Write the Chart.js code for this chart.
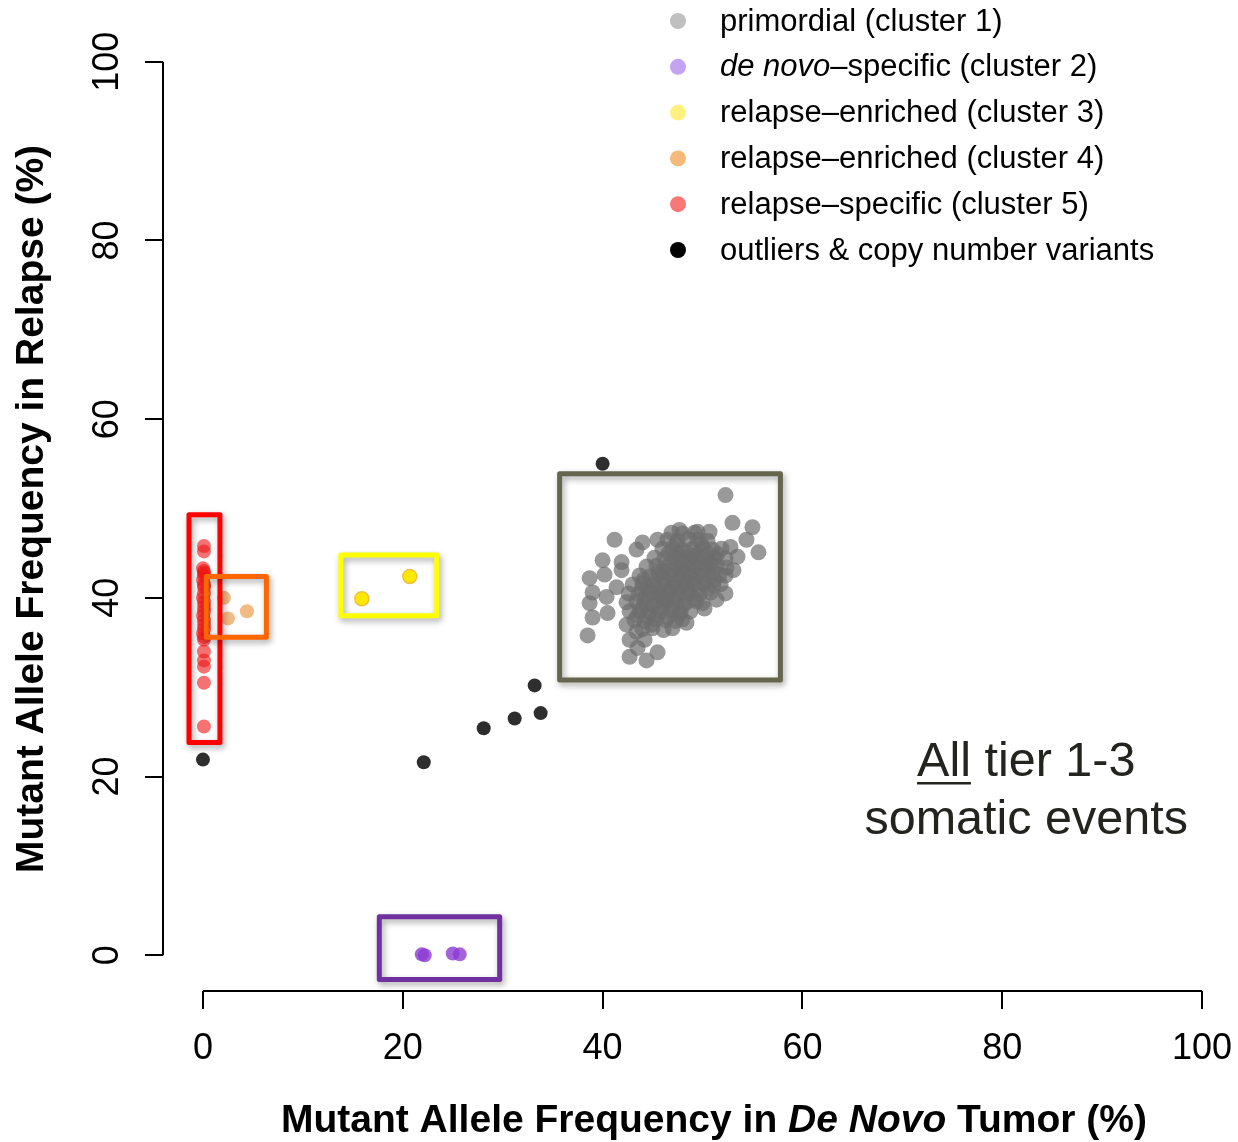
<!DOCTYPE html>
<html><head><meta charset="utf-8">
<script src="https://cdn.jsdelivr.net/npm/chart.js@4.4.1/dist/chart.umd.min.js"></script>
<style>html,body{margin:0;padding:0;background:#fff;}#wrap{width:1238px;height:1142px;}</style>
</head><body><div id="wrap"><canvas id="c" width="1238" height="1142"></canvas></div>
<script>
// ---------- data ----------
const xTicks = [0, 20, 40, 60, 80, 100];
const yTicks = [0, 20, 40, 60, 80, 100];
const xTitleParts = ['Mutant Allele Frequency in ', 'De Novo', ' Tumor (%)'];
const yTitle = 'Mutant Allele Frequency in Relapse (%)';
const legendNames = [
  ['', 'primordial (cluster 1)'],
  ['de novo', '\u2013specific (cluster 2)'],
  ['', 'relapse\u2013enriched (cluster 3)'],
  ['', 'relapse\u2013enriched (cluster 4)'],
  ['', 'relapse\u2013specific (cluster 5)'],
  ['', 'outliers & copy number variants']
];
const noteLine1 = ['All', ' tier 1-3'];
const noteLine2 = 'somatic events';

// cluster 1: primordial (outer scattered points)
const cluster1Outer = [
  [52.3,51.5],[53.0,48.4],[55.0,47.9],[54.4,46.5],[55.6,45.1],[41.2,46.5],[43.4,45.4],[40.0,44.2],
  [41.9,44.0],[38.7,42.2],[40.2,42.6],[39.0,40.6],[38.7,39.4],[40.4,40.1],[39.0,37.8],[40.5,38.3],
  [38.5,35.8],[42.4,37.0],[42.7,35.3],[43.5,34.4],[42.7,33.4],[44.4,33.0],[45.5,33.9],[47.0,36.6],
  [48.4,37.2],[52.3,40.5],[45.5,46.5],[47.7,47.6],[49.5,47.4],[50.7,47.4],[52.8,45.7],[53.5,44.6],
  [53.1,43.1],[41.4,41.2],[41.9,43.1],[44.2,35.3],[43.4,36.2],[50.2,38.8],[51.4,39.8],[44.0,46.2]
];
// cluster 1: primordial (dense core)
const cluster1Core = [
  [44.0,36.5],[45.0,36.6],[46.1,36.4],
  [43.2,37.5],[44.2,37.4],[45.3,37.6],[46.3,37.5],[47.3,37.4],[48.0,37.6],
  [42.7,38.5],[43.7,38.6],[44.7,38.4],[45.8,38.5],[46.8,38.6],[47.8,38.4],[48.8,38.5],
  [42.4,39.5],[43.4,39.6],[44.4,39.4],[45.4,39.5],[46.4,39.6],[47.4,39.4],[48.4,39.5],[49.4,39.6],[50.0,39.4],
  [42.6,40.5],[43.6,40.4],[44.7,40.6],[45.7,40.5],[46.7,40.4],[47.7,40.6],[48.7,40.5],[49.7,40.4],[50.8,40.6],
  [43.0,41.5],[44.0,41.6],[45.1,41.4],[46.1,41.5],[47.1,41.6],[48.1,41.4],[49.1,41.5],[50.1,41.6],[51.1,41.4],[51.8,41.5],
  [43.7,42.5],[44.7,42.4],[45.7,42.6],[46.7,42.5],[47.7,42.4],[48.7,42.6],[49.7,42.5],[50.7,42.4],[51.7,42.6],[52.3,42.5],
  [44.4,43.5],[45.4,43.6],[46.4,43.4],[47.4,43.5],[48.4,43.6],[49.4,43.4],[50.4,43.5],[51.4,43.6],[52.4,43.4],
  [45.2,44.5],[46.2,44.4],[47.2,44.6],[48.2,44.5],[49.2,44.4],[50.2,44.6],[51.2,44.5],[52.3,44.4],
  [46.0,45.5],[47.0,45.6],[48.0,45.4],[49.0,45.5],[50.0,45.6],[51.0,45.4],[51.9,45.5],
  [46.5,46.5],[47.5,46.4],[48.5,46.6],[49.5,46.5],[50.5,46.4],
  [46.9,47.3],[48.0,47.2],[49.2,47.3],
  [44.0,39.0],[45.0,39.1],[46.0,38.9],[47.0,39.0],[48.0,39.1],
  [44.2,40.0],[45.2,40.1],[46.2,39.9],[47.2,40.0],[48.2,40.1],[49.2,39.9],
  [44.5,41.0],[45.5,41.1],[46.5,40.9],[47.5,41.0],[48.5,41.1],[49.5,40.9],[50.5,41.0],
  [45.2,42.0],[46.2,42.1],[47.2,41.9],[48.2,42.0],[49.2,42.1],[50.2,41.9],[51.2,42.0],
  [46.0,43.0],[47.0,43.1],[48.0,42.9],[49.0,43.0],[50.0,43.1],[51.0,42.9],
  [46.8,44.0],[47.8,44.1],[48.8,43.9],[49.8,44.0],[50.8,44.1],
  [47.5,45.0],[48.5,45.1],[49.5,44.9],[50.5,45.0],
  [44.5,38.0],[45.5,38.1],[46.5,37.9],
  [43.5,38.0],[43.9,40.9],[44.9,37.0],[45.9,40.1],[46.9,41.2],[47.9,43.2],[48.9,44.7],[49.9,46.0],
  [50.9,43.8],[51.5,44.9],[47.6,38.1],[45.6,42.9],[44.1,42.0],[47.4,46.0],[48.6,41.7],[46.6,45.0]
];
// cluster 2: de novo-specific
const cluster2 = [[21.9,0.1],[22.2,0.0],[25.0,0.2],[25.7,0.1]];
// cluster 3: relapse-enriched
const cluster3 = [[15.9,39.9],[20.7,42.4]];
// cluster 4: relapse-enriched
const cluster4 = [[2.1,40.0],[2.5,37.7],[4.4,38.5]];
// cluster 5: relapse-specific
const cluster5 = [[0.1,45.8],[0.1,45.2],[0.1,43.0],[0.1,42.5],[0.1,41.5],[0.1,40.5],[0.1,39.5],[0.1,38.5],
  [0.1,37.5],[0.1,36.5],[0.1,35.3],[0.1,34.0],[0.1,33.0],[0.1,32.3],[0.1,30.5],[0.1,25.6],
  [0.0,43.3],[0.1,42.8],[0.0,42.0],[0.1,41.2],[0.0,40.0],[0.1,39.0],[0.0,38.0],[0.1,37.0],[0.0,36.0],[0.1,35.6]];
// outliers & CNVs
const outliers = [[0.0,21.9],[40.0,55.0],[22.1,21.6],[28.1,25.4],[31.2,26.5],[33.2,30.2],[33.8,27.1]];

// highlight boxes (data units): [xmin, xmax, ymin, ymax]
const boxRed    = [-1.4, 1.7, 23.8, 49.3];
const boxOrange = [0.33, 6.35, 35.6, 42.4];
const boxYellow = [13.8, 23.4, 38.0, 44.8];
const boxGray   = [35.7, 57.8, 30.8, 53.9];
const boxPurple = [17.65, 29.7, -2.7, 4.3];

// ---------- styles ----------
const FONT = '"Liberation Sans", Arial, Helvetica, sans-serif';
const seriesStyle = [
  {data: cluster1Outer.concat(cluster1Core), color: 'rgba(110,110,110,0.7)', r: 8},
  {data: cluster2, color: 'rgba(140,60,210,0.8)', r: 7},
  {data: cluster3, color: 'rgba(255,232,0,1)', r: 7, border: '#f0c040'},
  {data: cluster4, color: 'rgba(235,140,50,0.6)', r: 7},
  {data: cluster5, color: 'rgba(240,20,20,0.6)', r: 7},
  {data: outliers, color: 'rgba(0,0,0,0.82)', r: 7}
];
const legendDotColors = ['#c0c0c0','#c4a4f0','#fff080','#f5b97a','#f87878','#000000'];
const boxStyles = [
  [boxRed, '#ff0000'], [boxOrange, '#ff6600'], [boxYellow, '#ffff00'],
  [boxGray, '#66664f'], [boxPurple, '#7030a0']
];

const toPts = arr => arr.map(p => ({x: p[0], y: p[1]}));

const extrasPlugin = {
  id: 'extras',
  afterDatasetsDraw(chart) {
    const {ctx, scales: {x, y}} = chart;
    ctx.save();
    boxStyles.forEach(([b, col]) => {
      const x0 = x.getPixelForValue(b[0]), x1 = x.getPixelForValue(b[1]);
      const y0 = y.getPixelForValue(b[3]), y1 = y.getPixelForValue(b[2]);
      ctx.shadowColor = 'rgba(0,0,0,0.35)';
      ctx.shadowBlur = 6; ctx.shadowOffsetX = 2; ctx.shadowOffsetY = 3;
      ctx.strokeStyle = col; ctx.lineWidth = 5; ctx.lineJoin = 'round';
      ctx.strokeRect(x0, y0, x1 - x0, y1 - y0);
    });
    ctx.restore();
  },
  afterDraw(chart) {
    const {ctx, chartArea, scales: {x, y}} = chart;
    ctx.save();
    ctx.strokeStyle = '#000'; ctx.lineWidth = 2; ctx.lineCap = 'butt';
    ctx.beginPath();
    ctx.moveTo(chartArea.left, y.getPixelForValue(yTicks[0]));
    ctx.lineTo(chartArea.left, y.getPixelForValue(yTicks[yTicks.length - 1]));
    ctx.moveTo(x.getPixelForValue(xTicks[0]), chartArea.bottom);
    ctx.lineTo(x.getPixelForValue(xTicks[xTicks.length - 1]), chartArea.bottom);
    ctx.stroke();

    // y title
    ctx.fillStyle = '#000';
    ctx.font = 'bold 39px ' + FONT;
    ctx.textAlign = 'center'; ctx.textBaseline = 'middle';
    ctx.save();
    ctx.translate(32, 509);
    ctx.rotate(-Math.PI / 2);
    ctx.fillText(yTitle, 0, 0);
    ctx.restore();

    // x title with italic part
    const fonts = ['bold 39px ' + FONT, 'italic bold 39px ' + FONT, 'bold 39px ' + FONT];
    const widths = xTitleParts.map((t, i) => { ctx.font = fonts[i]; return ctx.measureText(t).width; });
    const total = widths.reduce((a, b) => a + b, 0);
    let cx = 714 - total / 2;
    ctx.textAlign = 'left'; ctx.textBaseline = 'middle';
    xTitleParts.forEach((t, i) => { ctx.font = fonts[i]; ctx.fillText(t, cx, 1121); cx += widths[i]; });

    // legend
    const rowY0 = 22, rowStep = 45.8;
    legendNames.forEach((parts, i) => {
      const ry = rowY0 + i * rowStep;
      ctx.fillStyle = legendDotColors[i];
      ctx.beginPath(); ctx.arc(678, ry - 1, 8, 0, Math.PI * 2); ctx.fill();
      ctx.fillStyle = '#000'; ctx.textBaseline = 'middle'; ctx.textAlign = 'left';
      let tx = 720;
      if (parts[0]) {
        ctx.font = 'italic 31px ' + FONT;
        ctx.fillText(parts[0], tx, ry);
        tx += ctx.measureText(parts[0]).width;
      }
      ctx.font = '31px ' + FONT;
      ctx.fillText(parts[1], tx, ry);
    });

    // annotation
    ctx.fillStyle = '#23231f'; ctx.strokeStyle = '#23231f';
    ctx.font = '48.5px ' + FONT;
    ctx.textBaseline = 'middle'; ctx.textAlign = 'left';
    const ncx = x.getPixelForValue(82.4);
    const w1 = ctx.measureText(noteLine1[0]).width, w2 = ctx.measureText(noteLine1[1]).width;
    const sx = ncx - (w1 + w2) / 2;
    const ly1 = y.getPixelForValue(21.6), ly2 = y.getPixelForValue(15.1);
    ctx.fillText(noteLine1[0], sx, ly1);
    ctx.fillText(noteLine1[1], sx + w1, ly1);
    ctx.lineWidth = 2.5;
    ctx.beginPath(); ctx.moveTo(sx, ly1 + 21); ctx.lineTo(sx + w1, ly1 + 21); ctx.stroke();
    ctx.textAlign = 'center';
    ctx.fillText(noteLine2, ncx, ly2);
    ctx.restore();
  }
};

new Chart(document.getElementById('c'), {
  type: 'scatter',
  data: {
    datasets: seriesStyle.map(s => ({
      data: toPts(s.data),
      backgroundColor: s.color,
      borderColor: s.border || 'rgba(0,0,0,0)',
      borderWidth: s.border ? 1.5 : 0,
      pointRadius: s.r,
      pointHoverRadius: s.r
    }))
  },
  options: {
    responsive: false,
    animation: false,
    events: [],
    layout: {autoPadding: false, padding: {top: 26, right: 0, left: 0, bottom: 0}},
    plugins: {legend: {display: false}, tooltip: {enabled: false}},
    scales: {
      x: {
        type: 'linear', min: -4, max: 103.6,
        afterBuildTicks: s => { s.ticks = xTicks.map(v => ({value: v})); },
        afterFit: s => { s.height = 151; s.paddingLeft = 0; s.paddingRight = 0; },
        grid: {drawOnChartArea: false, drawTicks: true, tickLength: 18, color: '#000', lineWidth: 2},
        border: {display: false},
        ticks: {font: {family: FONT, size: 36}, color: '#000', padding: 18, maxRotation: 0, minRotation: 0, autoSkip: false}
      },
      y: {
        type: 'linear', min: -4, max: 104,
        afterBuildTicks: s => { s.ticks = yTicks.map(v => ({value: v})); },
        afterFit: s => { s.width = 163; s.paddingTop = 0; s.paddingBottom = 0; },
        grid: {drawOnChartArea: false, drawTicks: true, tickLength: 18, color: '#000', lineWidth: 2},
        border: {display: false},
        ticks: {font: {family: FONT, size: 36}, color: '#000', padding: 7, minRotation: 90, maxRotation: 90, crossAlign: 'center', autoSkip: false}
      }
    }
  },
  plugins: [extrasPlugin]
});
</script></body></html>
